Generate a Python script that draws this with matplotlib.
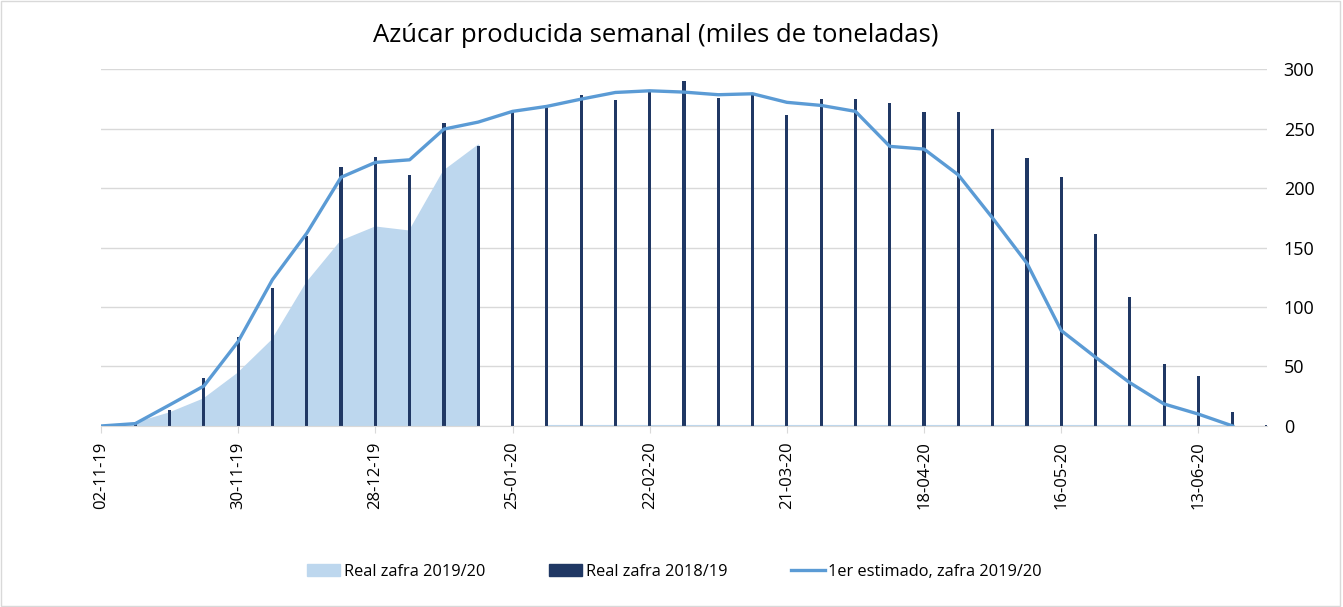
import numpy as np
import pandas as pd
import matplotlib
matplotlib.use("Agg")
import matplotlib.pyplot as plt
import matplotlib.dates as mdates
from matplotlib.patches import Patch, Rectangle
from matplotlib.lines import Line2D

plt.rcParams['font.family'] = ['Open Sans', 'DejaVu Sans']

weeks = pd.date_range('2019-11-02', periods=35, freq='7D')

# Real zafra 2019/20 (area) - NaN = sin dato
real_1920 = [0, 2, 10.6, 22.4, 44, 72, 120, 155, 166.8, 163.4, 214, 235.5,
             np.nan] + [0] * 21 + [np.nan]

# Real zafra 2018/19 (barras)
real_1819 = [0, 2, 13.5, 40, 74.6, 116, 160, 218, 225.7, 211, 255, 235.5,
             263.8, 267.7, 278.4, 273.6, 281, 289.6, 275.6, 278.4, 261.6, 274.7,
             274.7, 271.4, 263.8, 263.5, 249.5, 224.8, 208.9, 161.5, 108.5, 52.4,
             42.3, 11.5, 1]

# 1er estimado, zafra 2019/20 (linea)
estimado = [0, 2, 17.7, 33.6, 71, 123, 162, 209, 221.5, 223.7, 249.5, 255.4,
            264.4, 268.6, 274.7, 280.3, 281.7, 280.6, 278.4, 279.2, 272, 269.4,
            264.4, 235, 232.7, 211, 174.7, 136.8, 80.2, 57.8, 36.4, 18.5, 10, 0,
            np.nan]

c_area = '#BDD7EE'
c_bar = '#203864'
c_line = '#5B9BD5'

fig = plt.figure(figsize=(13.43, 6.07), dpi=100)
ax = fig.add_axes([0.0752, 0.2982, 0.8682, 0.5881])

area = np.array(real_1920, dtype=float)
ax.fill_between(weeks, 0, area, color=c_area, lw=0, zorder=1)
ax.plot(weeks, area, color=c_area, lw=1.5, zorder=1)
ax.bar(weeks, real_1819, width=0.65, color=c_bar, zorder=2)
ax.plot(weeks, estimado, color=c_line, lw=2.4, zorder=3)

ax.set_ylim(0, 300)
ax.set_xlim(weeks[0], weeks[-1])
ax.set_yticks(range(0, 301, 50))
ax.yaxis.tick_right()
ax.tick_params(axis='y', length=0, pad=12, labelsize=13)
for lab in ax.get_yticklabels():
    lab.set_ha('left')
ax.grid(axis='y', color='#D9D9D9', lw=1)
ax.set_axisbelow(True)

ax.set_xticks(weeks[::4])
ax.xaxis.set_major_formatter(mdates.DateFormatter('%d-%m-%y'))
ax.tick_params(axis='x', length=5, color='#D9D9D9', labelsize=12, labelrotation=90, pad=6)

for s in ['top', 'left', 'right']:
    ax.spines[s].set_visible(False)
ax.spines['bottom'].set_color('#D9D9D9')

fig.text(0.488, 0.942, 'Azúcar producida semanal (miles de toneladas)',
         ha='center', va='center', fontsize=18.5)

handles = [Patch(color=c_area), Patch(color=c_bar),
           Line2D([], [], color=c_line, lw=2.4)]
labels = ['Real zafra 2019/20', 'Real zafra 2018/19', '1er estimado, zafra 2019/20']
fig.legend(handles, labels, loc='center', bbox_to_anchor=(0.502, 0.058), ncol=3,
           frameon=False, fontsize=11.8, handlelength=2.05, handletextpad=0.2,
           columnspacing=3.9)

fig.patches.append(Rectangle((0.001, 0.002), 0.997, 0.996, transform=fig.transFigure,
                             fill=False, ec='#D9D9D9', lw=1))

fig.savefig('out.png', dpi=100)
